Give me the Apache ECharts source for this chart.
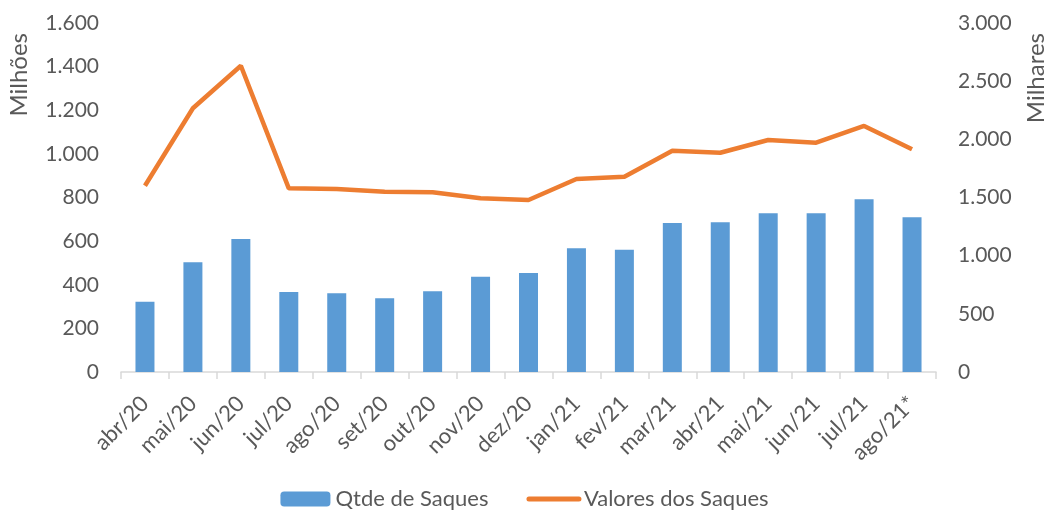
<!DOCTYPE html>
<html>
<head>
<meta charset="utf-8">
<script src="https://cdn.jsdelivr.net/npm/echarts@6/dist/echarts.min.js"></script>
<style>
  html, body { margin: 0; padding: 0; background: #fff; }
  #chart { width: 1049px; height: 516px; }
</style>
</head>
<body>
<div id="chart"></div>
<script>
// meses
var meses = ['abr/20', 'mai/20', 'jun/20', 'jul/20', 'ago/20', 'set/20', 'out/20', 'nov/20', 'dez/20',
  'jan/21', 'fev/21', 'mar/21', 'abr/21', 'mai/21', 'jun/21', 'jul/21', 'ago/21*'];
// Qtde de Saques (eixo esquerdo, milhões)
var qtdeSaques = [322, 503, 610, 367, 361, 338, 370, 437, 454, 567, 561, 683, 686, 728, 728, 792, 709];
// Valores dos Saques (eixo direito, milhares)
var valoresSaques = [1601, 2267, 2633, 1579, 1573, 1550, 1545, 1493, 1479, 1659, 1679, 1902, 1885, 1994, 1971, 2115, 1914];

var fonte = 'Lato, "Open Sans", sans-serif';
var cinza = '#595959';

function fmt(v) {
  return String(v).replace(/\B(?=(\d{3})+(?!\d))/g, '.');
}

var myChart = echarts.init(document.getElementById('chart'), null, { renderer: 'canvas' });
myChart.setOption({
  animation: false,
  textStyle: { fontFamily: fonte, color: cinza },
  grid: {
    left: 121,
    right: 113,
    top: 23,
    bottom: 144
  },
  legend: {
    bottom: 1,
    left: 'center',
    itemWidth: 50,
    itemHeight: 15,
    itemGap: 38,
    textStyle: { fontSize: 22, color: cinza, fontFamily: fonte },
    data: [
      { name: 'Qtde de Saques' },
      { name: 'Valores dos Saques', itemStyle: { opacity: 0 }, lineStyle: { width: 5, cap: 'round' } }
    ]
  },
  xAxis: {
    type: 'category',
    data: meses,
    axisLine: { lineStyle: { color: '#d9d9d9', width: 1.5 } },
    axisTick: { show: true, length: 7, lineStyle: { color: '#d9d9d9', width: 1.5 } },
    axisLabel: {
      rotate: 45,
      interval: 0,
      fontSize: 22,
      color: cinza,
      margin: 28
    }
  },
  yAxis: [
    {
      type: 'value',
      min: 0,
      max: 1600,
      interval: 200,
      axisLine: { show: false },
      axisTick: { show: false },
      splitLine: { show: false },
      axisLabel: { fontSize: 21, color: cinza, margin: 22, formatter: fmt }
    },
    {
      type: 'value',
      min: 0,
      max: 3000,
      interval: 500,
      axisLine: { show: false },
      axisTick: { show: false },
      splitLine: { show: false },
      axisLabel: { fontSize: 21, color: cinza, margin: 22, formatter: fmt }
    }
  ],
  graphic: [
    {
      type: 'text',
      left: 7,
      top: 33,
      rotation: Math.PI / 2,
      style: { text: 'Milhões', font: '24px ' + fonte, fill: cinza }
    },
    {
      type: 'text',
      left: 1024,
      top: 33,
      rotation: Math.PI / 2,
      style: { text: 'Milhares', font: '24px ' + fonte, fill: cinza }
    }
  ],
  series: [
    {
      name: 'Qtde de Saques',
      type: 'bar',
      yAxisIndex: 0,
      barWidth: 19,
      data: qtdeSaques,
      itemStyle: { color: '#5b9bd5' }
    },
    {
      name: 'Valores dos Saques',
      type: 'line',
      yAxisIndex: 1,
      symbol: 'none',
      data: valoresSaques,
      lineStyle: { color: '#ed7d31', width: 4.5 },
      itemStyle: { color: '#ed7d31' }
    }
  ]
});
</script>
</body>
</html>
